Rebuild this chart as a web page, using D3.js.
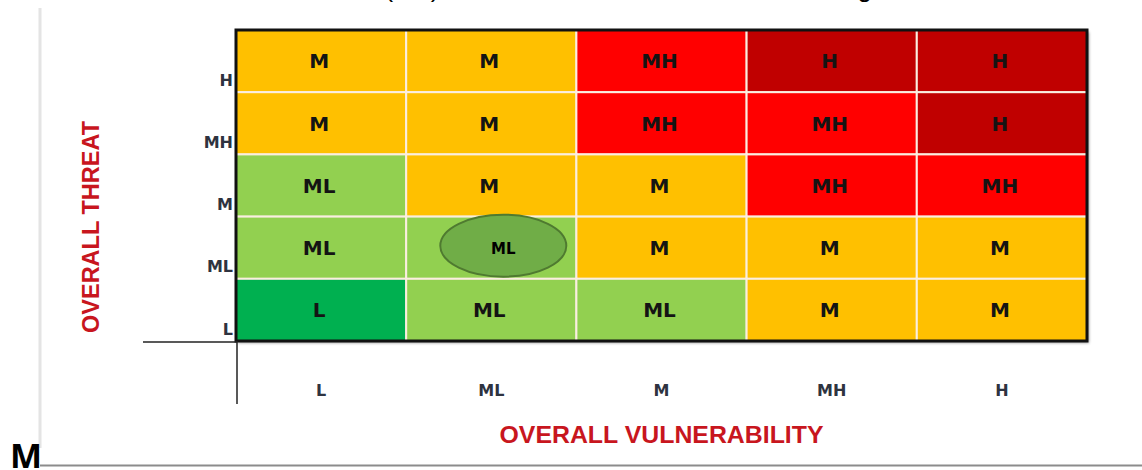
<!DOCTYPE html>
<html>
<head>
<meta charset="utf-8">
<script src="https://cdn.jsdelivr.net/npm/d3@7"></script>
<style>
  body { margin: 0; background: #fff; }
  svg { display: block; }
</style>
</head>
<body>
<div id="chart"></div>
<script>
// levels on each axis
var vulnLevels = ["L", "ML", "M", "MH", "H"];
var threatLevels = ["H", "MH", "M", "ML", "L"];

// risk rating per threat row (top to bottom), one entry per vulnerability column
var ratingH  = ["M",  "M",  "MH", "H",  "H"];
var ratingMH = ["M",  "M",  "MH", "MH", "H"];
var ratingM  = ["ML", "M",  "M",  "MH", "MH"];
var ratingML = ["ML", "ML", "M",  "M",  "M"];
var ratingL  = ["L",  "ML", "ML", "M",  "M"];

// the highlighted cell
var highlight = { vuln: "ML", threat: "ML", label: "ML" };

var ratingColor = d3.scaleOrdinal()
  .domain(["L", "ML", "M", "MH", "H"])
  .range(["#00b050", "#92d050", "#ffc000", "#ff0000", "#c00000"]);

var W = 1142, H = 470;
var gridLeft = 236, gridRight = 1087, gridTop = 30, gridBottom = 341;
var font = "Liberation Sans, Arial, sans-serif";
var labelFont = "DejaVu Sans, Verdana, sans-serif";

var svg = d3.select("#chart").append("svg")
  .attr("width", W)
  .attr("height", H);

// build cell table
var rows = [ratingH, ratingMH, ratingM, ratingML, ratingL];
var cells = [];
rows.forEach(function(r, i) {
  r.forEach(function(v, j) {
    cells.push({ threat: threatLevels[i], vuln: vulnLevels[j], rating: v });
  });
});

var x = d3.scaleBand().domain(vulnLevels).range([gridLeft, gridRight]);
var y = d3.scaleBand().domain(threatLevels).range([gridTop, gridBottom]);

// cut-off title text at the very top (only descenders show)
svg.append("text")
  .attr("x", 412).attr("y", -3)
  .attr("text-anchor", "middle")
  .style("font-family", font)
  .style("font-size", "26px")
  .text("(RR)");
svg.append("text")
  .attr("x", 872).attr("y", -3)
  .attr("text-anchor", "end")
  .style("font-family", font)
  .style("font-size", "26px")
  .text("Rating");

// page frame lines
svg.append("line")
  .attr("x1", 40).attr("x2", 40)
  .attr("y1", 8).attr("y2", 448)
  .attr("stroke", "#e4e4e4")
  .attr("stroke-width", 3);
svg.append("line")
  .attr("x1", 40).attr("x2", W)
  .attr("y1", 465.5).attr("y2", 465.5)
  .attr("stroke", "#8c8c8c")
  .attr("stroke-width", 2);

svg.append("text")
  .attr("x", 10).attr("y", 468)
  .style("font-family", "Open Sans, Liberation Sans, sans-serif")
  .style("font-weight", "700")
  .style("font-size", "34px")
  .attr("fill", "#000")
  .text("M");

// shadow behind grid
svg.append("rect")
  .attr("x", gridLeft + 2).attr("y", gridTop + 2)
  .attr("width", gridRight - gridLeft).attr("height", gridBottom - gridTop)
  .attr("fill", "#9a9a9a")
  .style("filter", "blur(1.5px)");

// cells
svg.append("g").selectAll("rect")
  .data(cells)
  .enter()
  .append("rect")
    .attr("x", function(d) { return x(d.vuln); })
    .attr("y", function(d) { return y(d.threat); })
    .attr("width", x.bandwidth())
    .attr("height", y.bandwidth())
    .attr("fill", function(d) { return ratingColor(d.rating); })
    .attr("stroke", "#fbeee0")
    .attr("stroke-width", 2);

// outer border
svg.append("rect")
  .attr("x", gridLeft).attr("y", gridTop)
  .attr("width", gridRight - gridLeft).attr("height", gridBottom - gridTop)
  .attr("fill", "none")
  .attr("stroke", "#111")
  .attr("stroke-width", 3);

// cell labels
svg.append("g").selectAll("text")
  .data(cells.filter(function(d) { return !(d.vuln == highlight.vuln && d.threat == highlight.threat); }))
  .enter()
  .append("text")
    .attr("x", function(d) { return x(d.vuln) + x.bandwidth() / 2 - 2; })
    .attr("y", function(d) { return y(d.threat) + y.bandwidth() / 2; })
    .attr("dy", "0.36em")
    .attr("text-anchor", "middle")
    .style("font-family", labelFont)
    .style("font-weight", "700")
    .style("font-size", "20px")
    .attr("fill", "#141414")
    .text(function(d) { return d.rating; });

// highlight ellipse
var hx = x(highlight.vuln) + x.bandwidth() / 2 + 12;
var hy = y(highlight.threat) + y.bandwidth() / 2 - 2;
svg.append("ellipse")
  .attr("cx", hx).attr("cy", hy)
  .attr("rx", 63).attr("ry", 31)
  .attr("fill", "#70ad47")
  .attr("stroke", "#4f7a30")
  .attr("stroke-width", 2);
svg.append("text")
  .attr("x", hx).attr("y", hy + 3)
  .attr("dy", "0.35em")
  .attr("text-anchor", "middle")
  .style("font-family", labelFont)
  .style("font-weight", "700")
  .style("font-size", "15px")
  .attr("fill", "#000")
  .text(highlight.label);

// axis lines
svg.append("line")
  .attr("x1", 143).attr("x2", gridLeft + 1)
  .attr("y1", gridBottom + 1).attr("y2", gridBottom + 1)
  .attr("stroke", "#222").attr("stroke-width", 1.5);
svg.append("line")
  .attr("x1", gridLeft + 1).attr("x2", gridLeft + 1)
  .attr("y1", gridBottom).attr("y2", 404)
  .attr("stroke", "#222").attr("stroke-width", 1.5);

// axes (labels only)
var xAxis = svg.append("g")
  .attr("transform", "translate(0," + 396 + ")")
  .call(d3.axisBottom(x).tickSize(0).tickPadding(0));
xAxis.select(".domain").remove();
xAxis.selectAll("text")
  .attr("y", 0)
  .attr("dy", 0)
  .style("font-family", labelFont)
  .style("font-weight", "700")
  .style("font-size", "16px")
  .attr("fill", "#2e3340");

var yAxis = svg.append("g")
  .attr("transform", "translate(" + (gridLeft - 3) + ",0)")
  .call(d3.axisLeft(y).tickSize(0).tickPadding(0));
yAxis.select(".domain").remove();
yAxis.selectAll("text")
  .attr("dy", "1.55em")
  .style("font-family", labelFont)
  .style("font-weight", "700")
  .style("font-size", "16px")
  .attr("fill", "#2e3340");

// axis titles
svg.append("text")
  .attr("x", (gridLeft + gridRight) / 2)
  .attr("y", 443)
  .attr("text-anchor", "middle")
  .attr("textLength", 324)
  .attr("lengthAdjust", "spacingAndGlyphs")
  .style("font-family", font)
  .style("font-weight", "700")
  .style("font-size", "23px")
  .attr("fill", "#c8161e")
  .text("OVERALL VULNERABILITY");

svg.append("text")
  .attr("transform", "translate(99," + 227 + ") rotate(-90)")
  .attr("text-anchor", "middle")
  .attr("textLength", 212)
  .attr("lengthAdjust", "spacingAndGlyphs")
  .style("font-family", font)
  .style("font-weight", "700")
  .style("font-size", "23px")
  .attr("fill", "#c8161e")
  .text("OVERALL THREAT");
</script>
</body>
</html>
